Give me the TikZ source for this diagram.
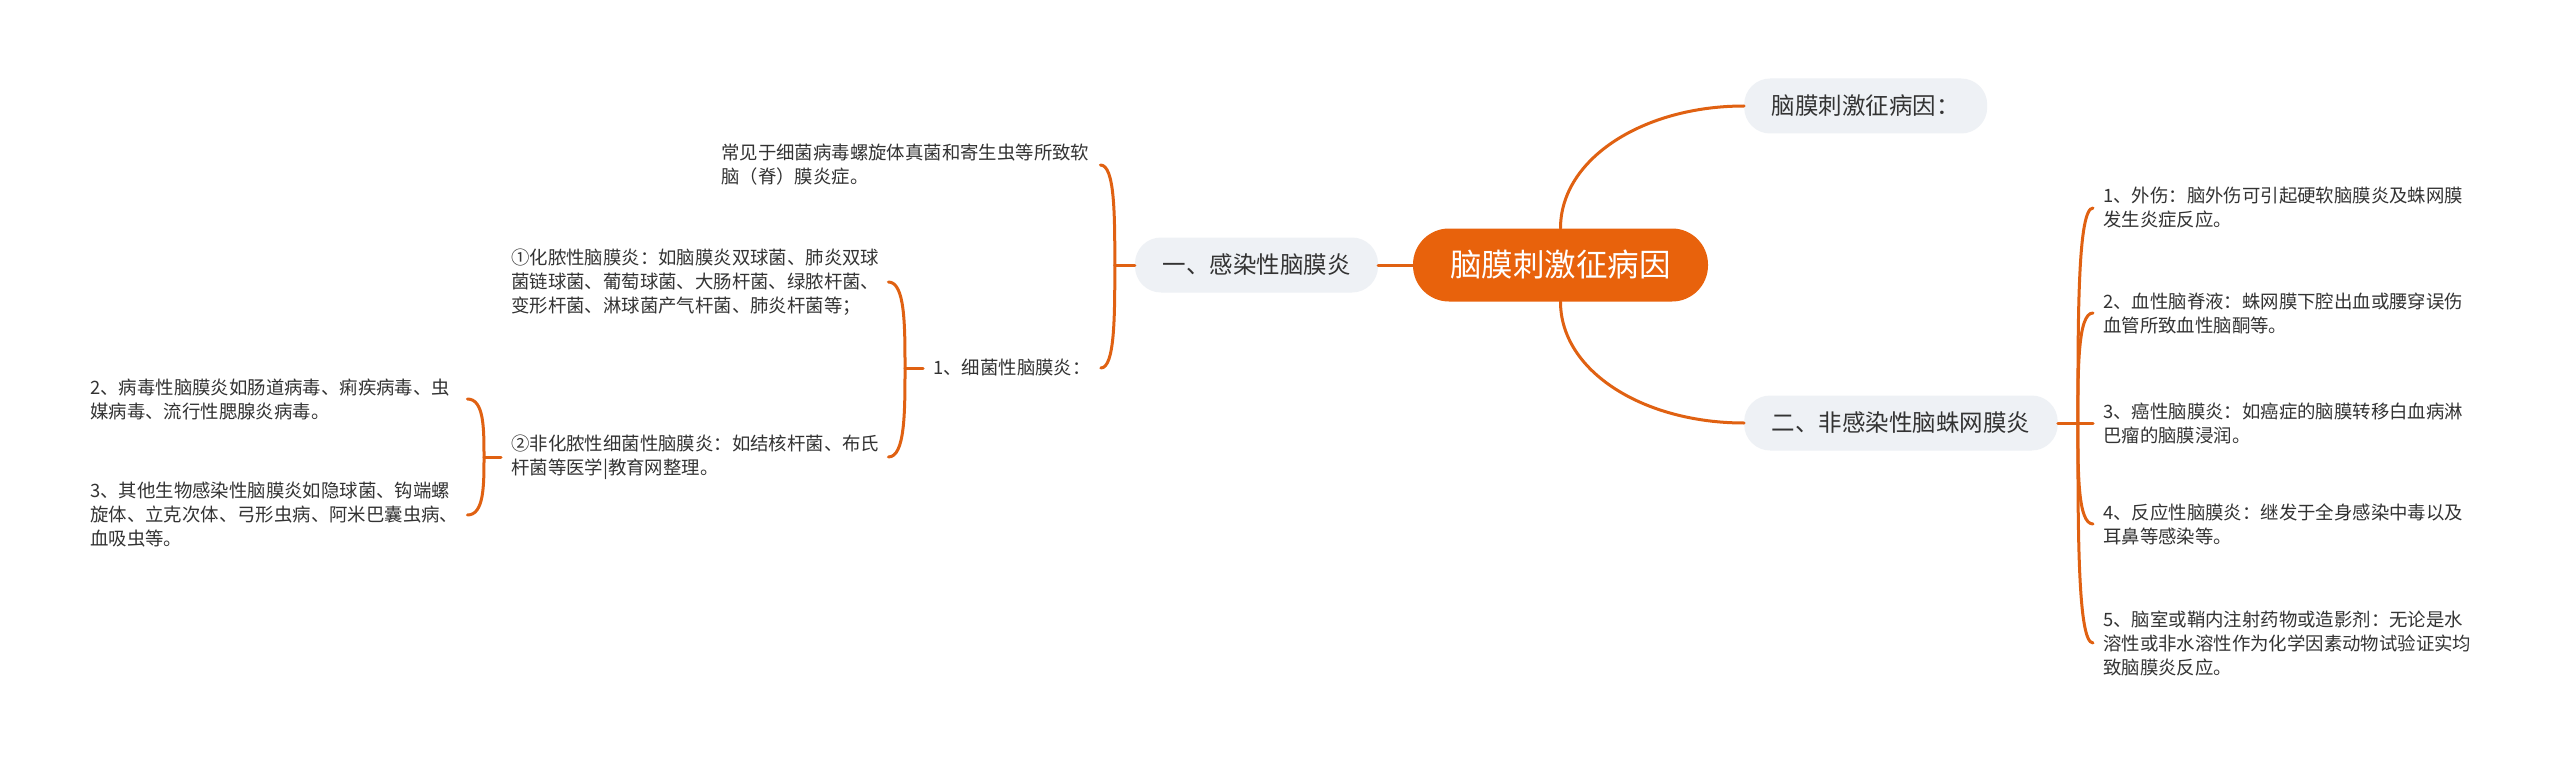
\documentclass[tikz,border=0pt]{standalone}
\usepackage{fontspec}
\setmainfont{Noto Sans CJK SC}
\usetikzlibrary{calc}
\definecolor{org}{RGB}{232,98,12}
\definecolor{lnk}{RGB}{224,97,18}
\definecolor{gbg}{RGB}{238,241,245}
\definecolor{txt}{RGB}{51,51,51}
\begin{document}
\begin{tikzpicture}[x=1pt,y=-1pt,
  rootbox/.style={fill=org, text=white, rounded corners=36pt, minimum width=295pt, minimum height=73pt, inner sep=0pt, font=\fontsize{31.5}{36}\selectfont},
  graybox/.style={fill=gbg, text=txt, rounded corners=26pt, minimum height=55pt, inner xsep=27.5pt, inner ysep=0pt, font=\fontsize{23.5}{28}\selectfont},
  lefttext/.style={anchor=west, align=left, text=txt, inner xsep=10pt, inner ysep=0pt, font=\fontsize{18.4}{24}\selectfont},
  righttext/.style={anchor=west, align=left, text=txt, inner xsep=10pt, inner ysep=0pt, font=\fontsize{18.4}{24}\selectfont},
  link/.style={draw=lnk, line width=3pt, line cap=round}
]
\fill[white] (0,0) rectangle (2560,765);
\useasboundingbox (0,0) rectangle (2560,765);

% main nodes
\node[rootbox] (root) at (1560.5,265) {脑膜刺激征病因};
\node[graybox, anchor=west] (G0) at (1744,106) {脑膜刺激征病因：};
\node[graybox] (G1) at (1256.5,265) {一、感染性脑膜炎};
\node[graybox, anchor=west] (G2) at (1744,423) {二、非感染性脑蛛网膜炎};

% left texts
\node[lefttext, text width=369pt] (common) at (711,165) {常见于细菌病毒螺旋体真菌和寄生虫等所致软\\脑（脊）膜炎症。};
\node[lefttext] (bact) at (923,368) {1、细菌性脑膜炎：};
\node[lefttext, text width=367pt] (c1) at (501,282) {①化脓性脑膜炎：如脑膜炎双球菌、肺炎双球\\菌链球菌、葡萄球菌、大肠杆菌、绿脓杆菌、\\变形杆菌、淋球菌产气杆菌、肺炎杆菌等；};
\node[lefttext, text width=367pt] (c2) at (501,457) {②非化脓性细菌性脑膜炎：如结核杆菌、布氏\\杆菌等医学|教育网整理。};
\node[lefttext, text width=367pt] (v2) at (80,399) {2、病毒性脑膜炎如肠道病毒、痢疾病毒、虫\\媒病毒、流行性腮腺炎病毒。};
\node[lefttext, text width=367pt] (v3) at (80,515) {3、其他生物感染性脑膜炎如隐球菌、钩端螺\\旋体、立克次体、弓形虫病、阿米巴囊虫病、\\血吸虫等。};

% right texts
\node[righttext] (r1) at (2093,208) {1、外伤：脑外伤可引起硬软脑膜炎及蛛网膜\\发生炎症反应。};
\node[righttext] (r2) at (2093,313) {2、血性脑脊液：蛛网膜下腔出血或腰穿误伤\\血管所致血性脑酮等。};
\node[righttext] (r3) at (2093,423) {3、癌性脑膜炎：如癌症的脑膜转移白血病淋\\巴瘤的脑膜浸润。};
\node[righttext] (r4) at (2093,524) {4、反应性脑膜炎：继发于全身感染中毒以及\\耳鼻等感染等。};
\node[righttext] (r5) at (2093,643) {5、脑室或鞘内注射药物或造影剂：无论是水\\溶性或非水溶性作为化学因素动物试验证实均\\致脑膜炎反应。};

% main connectors
\draw[link] (root.north) .. controls ($(root.north)+(0,-70)$) and ($(G0.west)+(-100,0)$) .. (G0.west);
\draw[link] (root.south) .. controls ($(root.south)+(0,70)$) and ($(G2.west)+(-100,0)$) .. (G2.west);
\draw[link] (G1.east) -- (root.west);

% bracket of G1
\draw[link] (G1.west) -- ++(-20,0) coordinate (b1);
\foreach \c in {common,bact}
  \draw[link] (b1) .. controls ($(b1)!0.5!(b1|-\c.east)$) and (b1|-\c.east) .. (\c.east);

% bracket of bact
\draw[link] (bact.west) -- ++(-18,0) coordinate (b2);
\foreach \c in {c1,c2}
  \draw[link] (b2) .. controls ($(b2)!0.5!(b2|-\c.east)$) and (b2|-\c.east) .. (\c.east);

% bracket of c2
\draw[link] (c2.west) -- ++(-17,0) coordinate (b3);
\foreach \c in {v2,v3}
  \draw[link] (b3) .. controls ($(b3)!0.5!(b3|-\c.east)$) and (b3|-\c.east) .. (\c.east);

% bracket of G2
\draw[link] (G2.east) -- ++(20,0) coordinate (b4);
\foreach \c in {r1,r2,r3,r4,r5}
  \draw[link] (b4) .. controls ($(b4)!0.5!(b4|-\c.west)$) and (b4|-\c.west) .. (\c.west);
\end{tikzpicture}
\end{document}
